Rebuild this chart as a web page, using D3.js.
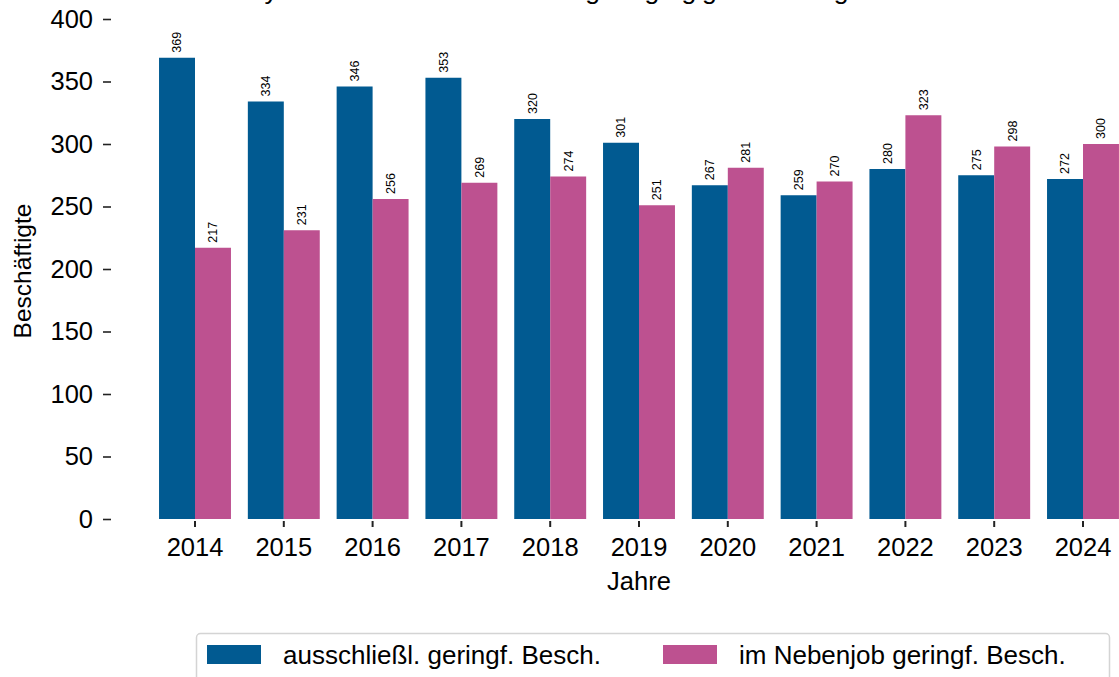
<!DOCTYPE html>
<html>
<head>
<meta charset="utf-8">
<script src="https://cdn.jsdelivr.net/npm/d3@7"></script>
<style>
  body { margin: 0; background: #fff; }
  svg { display: block; font-family: "Liberation Sans", Arial, sans-serif; }
</style>
</head>
<body>
<div id="chart"></div>
<script>
// data
const years = ["2014", "2015", "2016", "2017", "2018", "2019", "2020", "2021", "2022", "2023", "2024"];
const ausschliesslich = [369, 334, 346, 353, 320, 301, 267, 259, 280, 275, 272];
const nebenjob = [217, 231, 256, 269, 274, 251, 281, 270, 323, 298, 300];
const seriesNames = ["ausschließl. geringf. Besch.", "im Nebenjob geringf. Besch."];
const colors = ["#015a91", "#bd5190"];
const yTicks = [0, 50, 100, 150, 200, 250, 300, 350, 400];

const width = 1119, height = 677;

const svg = d3.select("#chart")
  .append("svg")
    .attr("width", width)
    .attr("height", height);

// title (mostly above the visible area, as in the original)
svg.append("text")
  .attr("x", 232)
  .attr("y", -1)
  .style("font-size", "26.6px")
  .text("Bayern: ausschl. und zusätzl. geringfügig Beschäftigte");

// scales
const x = d3.scaleBand()
  .domain(years)
  .range([150.6, 1127.4])
  .paddingInner(0.19)
  .paddingOuter(0.095);

const xSub = d3.scaleBand()
  .domain([0, 1])
  .range([0, x.bandwidth()]);

const y = d3.scaleLinear()
  .domain([0, 400])
  .range([519, 19]);

// Y axis
const yAxis = svg.append("g")
  .attr("transform", "translate(111,0)")
  .call(d3.axisLeft(y).tickValues(yTicks).tickSize(8).tickPadding(10));
yAxis.select(".domain").remove();
yAxis.selectAll(".tick line").attr("stroke", "#222").attr("stroke-width", 1.6);
yAxis.selectAll(".tick text")
  .style("font-size", "25.5px")
  .style("font-family", "Liberation Sans, Arial, sans-serif")
  .attr("fill", "#000");

// X axis
const xAxis = svg.append("g")
  .attr("transform", "translate(0,521)")
  .call(d3.axisBottom(x).tickSize(6).tickPadding(11));
xAxis.select(".domain").remove();
xAxis.selectAll(".tick line").attr("stroke", "#222").attr("stroke-width", 2);
xAxis.selectAll(".tick text")
  .style("font-size", "25.5px")
  .style("font-family", "Liberation Sans, Arial, sans-serif")
  .attr("fill", "#000");

// axis titles
svg.append("text")
  .attr("x", 639)
  .attr("y", 590)
  .attr("text-anchor", "middle")
  .style("font-size", "25.5px")
  .text("Jahre");

svg.append("text")
  .attr("transform", "translate(31,271) rotate(-90)")
  .attr("text-anchor", "middle")
  .style("font-size", "24.5px")
  .text("Beschäftigte");

// bars
const rows = years.map((yr, i) => ({year: yr, values: [ausschliesslich[i], nebenjob[i]]}));

const groups = svg.append("g")
  .selectAll("g")
  .data(rows)
  .join("g")
    .attr("transform", d => `translate(${x(d.year)},0)`);

groups.selectAll("rect")
  .data(d => d.values.map((v, k) => ({k, v})))
  .join("rect")
    .attr("x", d => xSub(d.k))
    .attr("width", xSub.bandwidth())
    .attr("y", d => y(d.v))
    .attr("height", d => y(0) - y(d.v))
    .attr("fill", d => colors[d.k]);

// value labels
groups.selectAll("text.val")
  .data(d => d.values.map((v, k) => ({k, v})))
  .join("text")
    .attr("class", "val")
    .attr("transform", d => `translate(${xSub(d.k) + xSub.bandwidth() / 2 + 4.4},${y(d.v) - 5}) rotate(-90)`)
    .style("font-size", "12.5px")
    .text(d => d.v);

// legend
const legend = svg.append("g");
legend.append("rect")
  .attr("x", 196.5)
  .attr("y", 633.5)
  .attr("width", 913)
  .attr("height", 70)
  .attr("rx", 4)
  .attr("fill", "#fff")
  .attr("stroke", "#d4d4d4")
  .attr("stroke-width", 1.5);

const legendX = [207, 663];
const legendItems = legend.selectAll("g.item")
  .data(seriesNames)
  .join("g")
    .attr("class", "item")
    .attr("transform", (d, i) => `translate(${legendX[i]},645)`);

legendItems.append("rect")
  .attr("width", 54)
  .attr("height", 19)
  .attr("fill", (d, i) => colors[i]);

legendItems.append("text")
  .attr("x", 76)
  .attr("y", 18.5)
  .style("font-size", "26px")
  .text(d => d);
</script>
</body>
</html>
